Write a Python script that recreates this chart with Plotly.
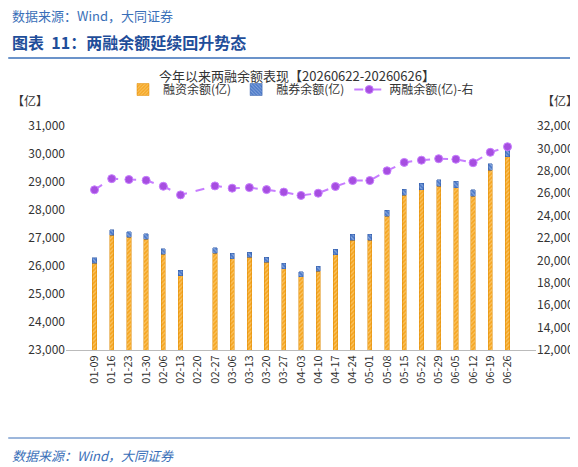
import plotly.graph_objects as go

dates = ["01-09","01-16","01-23","01-30","02-06","02-13","02-20","02-27","03-06","03-13","03-20","03-27","04-03","04-10","04-17","04-24","05-01","05-08","05-15","05-22","05-29","06-05","06-12","06-19","06-26"]
total = [26300,27300,27220,27150,26620,25850,None,26650,26450,26500,26320,26100,25800,26000,26600,27130,27130,28000,28750,28950,29080,29030,28720,29650,30150]
short = [200,200,200,200,200,190,None,190,190,190,190,190,180,190,200,210,210,220,220,220,230,230,230,230,240]
margin = [None if t is None else t - s for t, s in zip(total, short)]
line_x = [d for d, t in zip(dates, total) if t is not None]
line_y = [t for t in total if t is not None]

FONT = "Noto Sans CJK SC"
W, H = 578, 467
l, r, t, b = 58, 48, 118, 125
def px(x): return (x - l) / (W - l - r)
def py(y): return ((H - y) - b) / (H - t - b)

fig = go.Figure()
fig.add_bar(x=dates, y=margin, name="融资余额(亿)", width=0.25,
            marker=dict(color="#f5a623", line=dict(width=0.5, color="#e08a00"),
                        pattern=dict(shape="/", fgcolor="#fde3a8", size=3, solidity=0.4)))
fig.add_bar(x=dates, y=short, name="融券余额(亿)", width=0.25,
            marker=dict(color="#4a78c8", line=dict(width=0.5, color="#2f5aa8"),
                        pattern=dict(shape="\\", fgcolor="#c8d8f0", size=3, solidity=0.4)))
fig.add_scatter(x=line_x, y=line_y, name="两融余额(亿)-右", yaxis="y2", mode="lines+markers",
                line=dict(color="#c77dff", dash="dash", width=2),
                marker=dict(color="#a64ee0", size=8, line=dict(color="#c77dff", width=1)))

fig.update_layout(
    width=W, height=H, barmode="stack", plot_bgcolor="white", paper_bgcolor="white",
    margin=dict(l=l, r=r, t=t, b=b),
    font=dict(family=FONT, size=12, color="#333"),
    title=dict(text="今年以来两融余额表现【20260622-20260626】", x=0.5, xanchor="center",
               y=1 - 68/H, yanchor="middle", font=dict(size=13, color="#333")),
    legend=dict(orientation="h", x=0.5, xanchor="center", y=py(96), yanchor="bottom",
                font=dict(size=12), traceorder="normal", itemwidth=30),
    xaxis=dict(type="category", categoryorder="array", categoryarray=dates, tickangle=-90,
               showline=True, linecolor="#bbb", ticks="", tickfont=dict(size=11)),
    yaxis=dict(range=[23000, 31000], dtick=1000, tickformat=",", showgrid=False,
               ticks="", tickfont=dict(size=12)),
    yaxis2=dict(range=[12000, 32000], dtick=2000, tickformat=",", overlaying="y",
                side="right", showgrid=False, ticks="", tickfont=dict(size=12)),
)
ann = [
    dict(text="数据来源：Wind，大同证券", x=2, y=7, xanchor="left", font=dict(size=13, color="#3a6fb8")),
    dict(text="<b>图表  11：两融余额延续回升势态</b>", x=2, y=34, xanchor="left",
         font=dict(size=16, color="#1f4e9a")),
    dict(text="【亿】", x=2, y=92, xanchor="left", font=dict(size=12)),
    dict(text="【亿】", x=574, y=92, xanchor="right", font=dict(size=12)),
    dict(text="<i>数据来源：Wind，大同证券</i>", x=2, y=447, xanchor="left",
         font=dict(size=13, color="#3a6fb8")),
]
for a in ann:
    fig.add_annotation(text=a["text"], x=px(a["x"]), y=py(a["y"]), xref="paper", yref="paper",
                       xanchor=a["xanchor"], yanchor="middle", showarrow=False, font=a["font"])
fig.add_shape(type="line", xref="paper", yref="paper", x0=px(0), x1=px(578), y0=py(50), y1=py(50),
              line=dict(color="#3a6fb8", width=1.5))
fig.add_shape(type="line", xref="paper", yref="paper", x0=px(0), x1=px(578), y0=py(430), y1=py(430),
              line=dict(color="#3a6fb8", width=1))
fig.write_html("out.html")
